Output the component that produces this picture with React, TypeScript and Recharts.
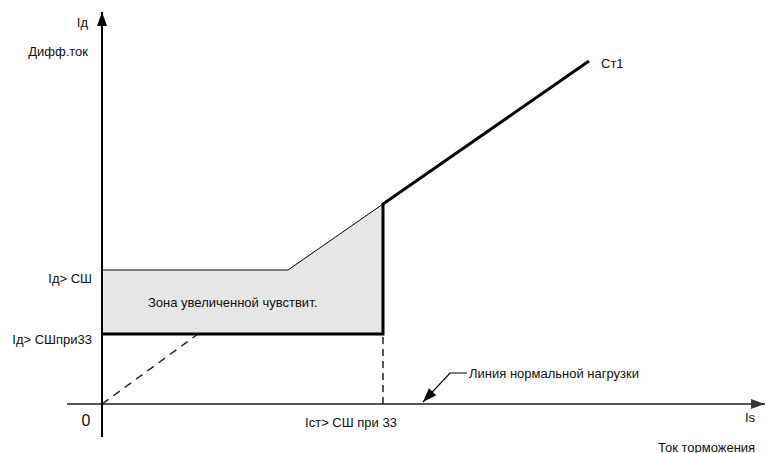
import { Area, ComposedChart, Line, ReferenceDot, ReferenceLine, XAxis, YAxis } from "recharts";

// characteristic points (x = restraint current Is, y = differential current Iд)
const zoneX = [0, 3.72, 5.62];
const zoneLow = [1.4, 1.4, 1.4];
const zoneHigh = [2.68, 2.68, 4.0];

const st1X = [0, 5.62, 5.62, 9.74];
const st1Y = [1.4, 1.4, 4.0, 6.86];

const loadX = [0, 1.92];
const loadY = [0, 1.4];

const istX = [5.62, 5.62];
const istY = [0, 1.4];

const pointerX = [7.3, 6.96, 6.42];
const pointerY = [0.62, 0.62, 0.04];

const labels = [
  { text: "Iд", x: -0.28, y: 7.64, anchor: "end" },
  { text: "Дифф.ток", x: -0.28, y: 7.06, anchor: "end" },
  { text: "Iд> СШ", x: -0.2, y: 2.52, anchor: "end" },
  { text: "Iд> СШпри33", x: -0.2, y: 1.3, anchor: "end" },
  { text: "Зона увеличенной чувствит.", x: 0.92, y: 2.04, anchor: "start" },
  { text: "Iст> СШ при 33", x: 4.98, y: -0.36, anchor: "middle" },
  { text: "Линия нормальной нагрузки", x: 7.34, y: 0.62, anchor: "start" },
  { text: "Is", x: 12.86, y: -0.26, anchor: "start" },
  { text: "Ток торможения", x: 11.12, y: -0.86, anchor: "start" },
  { text: "Ст1", x: 9.98, y: 6.82, anchor: "start" },
];

const FONT = "'Liberation Sans Narrow', 'Arial Narrow', 'Liberation Sans', sans-serif";

const zoneData = zoneX.map((x, i) => ({ x, band: [zoneLow[i], zoneHigh[i]] }));
const upperData = zoneX.map((x, i) => ({ x, y: zoneHigh[i] }));
const toPts = (xs: number[], ys: number[]) => xs.map((x, i) => ({ x, y: ys[i] }));

const arrowHead = (angle: number, color: string) => (p: any) => {
  const { cx, cy } = p;
  return (
    <path
      d="M0,0 L-14,-5 L-14,5 Z"
      fill={color}
      transform={`translate(${cx},${cy}) rotate(${angle})`}
    />
  );
};

export default function App() {
  return (
    <div style={{ position: "absolute", left: 0, top: 0, background: "#fff" }}>
      <ComposedChart width={767} height={453} margin={{ top: 12, right: 2, bottom: 16, left: 67 }}>
        <XAxis type="number" dataKey="x" domain={[-0.7, 13.26]} hide allowDataOverflow />
        <YAxis type="number" domain={[-0.66, 7.84]} hide allowDataOverflow />

        <Area
          data={zoneData}
          dataKey="band"
          type="linear"
          fill="#e6e6e6"
          fillOpacity={1}
          stroke="none"
          isAnimationActive={false}
        />

        <ReferenceLine y={0} stroke="#555" strokeWidth={2} />
        <ReferenceLine x={0} stroke="#000" strokeWidth={2} />

        <Line data={upperData} dataKey="y" type="linear" stroke="#000" strokeWidth={1} dot={false} isAnimationActive={false} />
        <Line data={toPts(loadX, loadY)} dataKey="y" type="linear" stroke="#222" strokeWidth={1.5} strokeDasharray="8 6" dot={false} isAnimationActive={false} />
        <Line data={toPts(istX, istY)} dataKey="y" type="linear" stroke="#222" strokeWidth={1.5} strokeDasharray="7 5" dot={false} isAnimationActive={false} />
        <Line data={toPts(st1X, st1Y)} dataKey="y" type="linear" stroke="#000" strokeWidth={3} dot={false} isAnimationActive={false} />
        <Line data={toPts(pointerX, pointerY)} dataKey="y" type="linear" stroke="#000" strokeWidth={1.2} dot={false} isAnimationActive={false} />

        <ReferenceDot x={0} y={7.84} r={0} ifOverflow="visible" shape={arrowHead(-90, "#000")} />
        <ReferenceDot x={13.26} y={0} r={0} ifOverflow="visible" shape={arrowHead(0, "#333")} />
        <ReferenceDot x={pointerX[2]} y={pointerY[2]} r={0} ifOverflow="visible" shape={arrowHead(133, "#000")} />

        {labels.map((l) => (
          <ReferenceDot
            key={l.text}
            x={l.x}
            y={l.y}
            r={0}
            ifOverflow="visible"
            shape={(p: any) => (
              <text
                x={p.cx}
                y={p.cy}
                textAnchor={l.anchor as any}
                dominantBaseline="central"
                fontFamily={FONT}
                fontSize={13}
                fill="#111"
              >
                {l.text}
              </text>
            )}
          />
        ))}
        <ReferenceDot
          x={-0.32}
          y={-0.32}
          r={0}
          ifOverflow="visible"
          shape={(p: any) => (
            <text x={p.cx} y={p.cy} textAnchor="middle" dominantBaseline="central" fontFamily={FONT} fontSize={16} fill="#111">
              0
            </text>
          )}
        />
      </ComposedChart>
    </div>
  );
}
